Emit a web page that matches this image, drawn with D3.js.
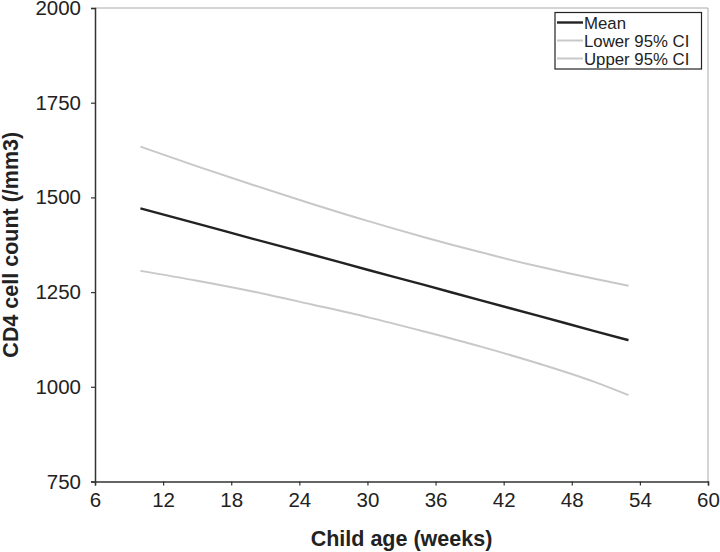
<!DOCTYPE html>
<html><head><meta charset="utf-8">
<script src="https://cdn.jsdelivr.net/npm/d3@7"></script>
<style>body{margin:0;background:#fff}svg{display:block}text{font-family:"Liberation Sans",Arial,sans-serif;fill:#222}</style>
</head><body><svg id="c" width="720" height="552"></svg>
<script>
const weeks = [10, 15, 20, 25, 30, 35, 40, 45, 50, 53];
const meanValues = [1471, 1431, 1390, 1350, 1309, 1269, 1228, 1188, 1147, 1123];
const lowerValues = [1306, 1280, 1251, 1218, 1184, 1146, 1106, 1062, 1013, 978];
const upperValues = [1634, 1582, 1532, 1484, 1438, 1395, 1355, 1318, 1285, 1267];
const xTicks = [6, 12, 18, 24, 30, 36, 42, 48, 54, 60];
const yTicks = [750, 1000, 1250, 1500, 1750, 2000];
const seriesNames = ["Mean", "Lower 95% CI", "Upper 95% CI"];

const svg = d3.select("#c");
const L = 95, R = 708, T = 8, B = 481.5;
const x = d3.scaleLinear().domain([6, 60]).range([L, R]);
const y = d3.scaleLinear().domain([750, 2000]).range([B, T]);

// frame top/right
svg.append("line").attr("x1", L).attr("x2", R).attr("y1", T).attr("y2", T).attr("stroke", "#aaa").attr("stroke-width", 1);
svg.append("line").attr("x1", R).attr("x2", R).attr("y1", T).attr("y2", B).attr("stroke", "#aaa").attr("stroke-width", 1);

const xAxis = svg.append("g").attr("transform", `translate(0,${B})`)
  .call(d3.axisBottom(x).tickValues(xTicks).tickSize(4).tickPadding(7).tickFormat(d3.format("d")));
const yAxis = svg.append("g").attr("transform", `translate(${L},0)`)
  .call(d3.axisLeft(y).tickValues(yTicks).tickSize(4).tickPadding(10).tickFormat(d3.format("d")));
[xAxis, yAxis].forEach(g => {
  g.select(".domain").attr("stroke", "#333").attr("stroke-width", 1.5);
  g.selectAll(".tick line").attr("stroke", "#333").attr("stroke-width", 1.2);
  g.selectAll("text").style("font-size", "20.5px").attr("fill", "#222").style("font-family", '"Liberation Sans",Arial,sans-serif');
});

const line = d3.line().x((d, i) => x(weeks[i])).y(d => y(d)).curve(d3.curveMonotoneX);
const styles = [{c: "#222", w: 2.4}, {c: "#c8c8c8", w: 2}, {c: "#c8c8c8", w: 2}];
[lowerValues, upperValues, meanValues].forEach(vals => {
  const s = vals === meanValues ? styles[0] : styles[1];
  svg.append("path").attr("d", line(vals)).attr("fill", "none").attr("stroke", s.c).attr("stroke-width", s.w);
});

// axis titles
svg.append("text").attr("x", (L + R) / 2).attr("y", 546).attr("text-anchor", "middle")
  .style("font-size", "21.5px").style("font-weight", "bold").text("Child age (weeks)");
svg.append("text").attr("transform", `translate(18,${(T + B) / 2}) rotate(-90)`).attr("text-anchor", "middle")
  .style("font-size", "21.5px").style("font-weight", "bold").text("CD4 cell count (/mm3)");

// legend
const lg = svg.append("g");
lg.append("rect").attr("x", 555).attr("y", 12.5).attr("width", 146.5).attr("height", 56.5)
  .attr("fill", "#fff").attr("stroke", "#222").attr("stroke-width", 1.2);
const ly = [22.5, 40.5, 58.5];
seriesNames.forEach((n, i) => {
  lg.append("line").attr("x1", 557).attr("x2", 583).attr("y1", ly[i]).attr("y2", ly[i])
    .attr("stroke", styles[i].c).attr("stroke-width", styles[i].w);
  lg.append("text").attr("x", 584).attr("y", ly[i] + 6.2).style("font-size", "16.8px").text(n);
});
</script></body></html>
